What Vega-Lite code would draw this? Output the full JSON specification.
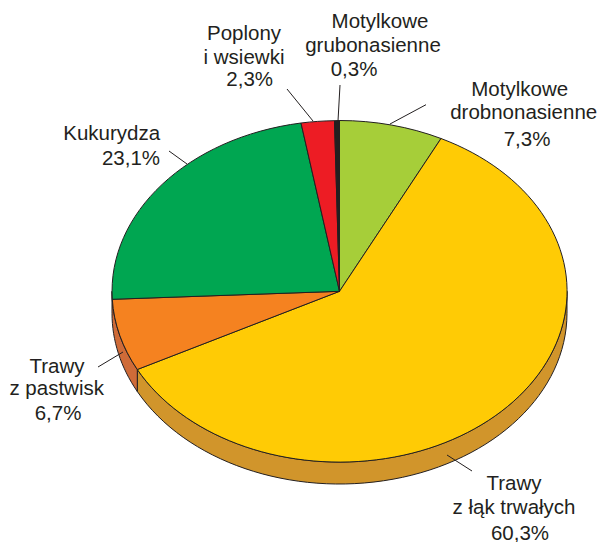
{
  "$schema": "https://vega.github.io/schema/vega-lite/v6.json",
  "width": 601,
  "height": 542,
  "autosize": "none",
  "padding": 0,
  "background": "white",
  "view": {"stroke": null},
  "layer": [
    {
      "data": {"values": [
        {"piece": "Trawy z łąk trwałych (bok)", "share": 60.3},
        {"piece": "Trawy z pastwisk (bok)", "share": 6.7},
        {"piece": "Motylkowe drobnonasienne", "share": 7.3},
        {"piece": "Trawy z łąk trwałych", "share": 60.3},
        {"piece": "Trawy z pastwisk", "share": 6.7},
        {"piece": "Kukurydza", "share": 23.1},
        {"piece": "Poplony i wsiewki", "share": 2.3},
        {"piece": "Motylkowe grubonasienne", "share": 0.3}
      ]},
      "mark": {"type": "point", "filled": true, "opacity": 1, "size": 4, "stroke": "#231F20", "strokeWidth": 1, "strokeOpacity": 1, "fillOpacity": 1, "clip": false},
      "encoding": {
        "shape": {
          "field": "piece", "type": "nominal", "legend": null, "sort": null,
          "scale": {
            "domain": ["Trawy z łąk trwałych (bok)", "Trawy z pastwisk (bok)", "Motylkowe drobnonasienne", "Trawy z łąk trwałych", "Trawy z pastwisk", "Kukurydza", "Poplony i wsiewki", "Motylkowe grubonasienne"],
            "range": [
              "M-163.2,98.5 A227.5,170.75 0 0 0 266.5,20.3 L266.5,42.3 A227.5,170.75 0 0 1 -163.2,120.5 Z",
              "M-188.5,20.3 A227.5,170.75 0 0 0 -163.2,98.5 L-163.2,120.5 A227.5,170.75 0 0 1 -188.5,42.3 Z",
              "M39,20.3 L39,-150.5 A227.5,170.75 0 0 1 140.5,-132.5 Z",
              "M39,20.3 L140.5,-132.5 A227.5,170.75 0 1 1 -163.2,98.5 Z",
              "M39,20.3 L-163.2,98.5 A227.5,170.75 0 0 1 -188.2,28.3 Z",
              "M39,20.3 L-188.2,28.3 A227.5,170.75 0 0 1 0.5,-148 Z",
              "M39,20.3 L0.5,-148 A227.5,170.75 0 0 1 34,-150.3 Z",
              "M39,20.3 L34,-150.3 A227.5,170.75 0 0 1 39,-150.5 Z"
            ]
          }
        },
        "color": {
          "field": "piece", "type": "nominal", "legend": null, "sort": null,
          "scale": {
            "domain": ["Trawy z łąk trwałych (bok)", "Trawy z pastwisk (bok)", "Motylkowe drobnonasienne", "Trawy z łąk trwałych", "Trawy z pastwisk", "Kukurydza", "Poplony i wsiewki", "Motylkowe grubonasienne"],
            "range": ["#D1952B", "#CF6B38", "#A6CE39", "#FFCB05", "#F58220", "#00A651", "#ED1C24", "#231F20"]
          }
        }
      }
    },
    {
      "data": {"values": [
        {"slice": "Poplony i wsiewki", "x1": 287, "y1": 89, "x2": 313, "y2": 121},
        {"slice": "Motylkowe grubonasienne", "x1": 340, "y1": 85, "x2": 338, "y2": 121},
        {"slice": "Motylkowe drobnonasienne", "x1": 426, "y1": 104.7, "x2": 390, "y2": 124},
        {"slice": "Kukurydza", "x1": 169, "y1": 151, "x2": 187, "y2": 164},
        {"slice": "Trawy z pastwisk", "x1": 98, "y1": 367, "x2": 123, "y2": 352},
        {"slice": "Trawy z łąk trwałych", "x1": 447, "y1": 455, "x2": 472, "y2": 471}
      ]},
      "mark": {"type": "rule", "color": "#231F20", "strokeWidth": 1},
      "encoding": {
        "x": {"field": "x1", "type": "quantitative", "axis": null, "scale": {"domain": [0, 601], "nice": false, "zero": false}},
        "y": {"field": "y1", "type": "quantitative", "axis": null, "scale": {"domain": [542, 0], "nice": false, "zero": false}},
        "x2": {"field": "x2"},
        "y2": {"field": "y2"}
      }
    },
    {
      "data": {"values": [
        {"label": "Poplony", "lx": 244, "ly": 39.5},
        {"label": "i wsiewki", "lx": 244, "ly": 64},
        {"label": "2,3%", "lx": 249.7, "ly": 85.7},
        {"label": "Motylkowe", "lx": 380, "ly": 28.3},
        {"label": "grubonasienne", "lx": 373, "ly": 51.7},
        {"label": "0,3%", "lx": 354, "ly": 76},
        {"label": "Motylkowe", "lx": 519.7, "ly": 96},
        {"label": "drobnonasienne", "lx": 523.7, "ly": 119.3},
        {"label": "7,3%", "lx": 527, "ly": 146},
        {"label": "Kukurydza", "lx": 111.7, "ly": 140},
        {"label": "23,1%", "lx": 131, "ly": 165},
        {"label": "Trawy", "lx": 57, "ly": 373.3},
        {"label": "z pastwisk", "lx": 56.7, "ly": 395},
        {"label": "6,7%", "lx": 58, "ly": 420},
        {"label": "Trawy", "lx": 514, "ly": 490.3},
        {"label": "z łąk trwałych", "lx": 514, "ly": 513.7},
        {"label": "60,3%", "lx": 520, "ly": 540.3}
      ]},
      "mark": {"type": "text", "font": "Liberation Sans", "fontSize": 20.5, "align": "center", "baseline": "alphabetic", "color": "#231F20"},
      "encoding": {
        "x": {"field": "lx", "type": "quantitative", "axis": null, "scale": {"domain": [0, 601], "nice": false, "zero": false}},
        "y": {"field": "ly", "type": "quantitative", "axis": null, "scale": {"domain": [542, 0], "nice": false, "zero": false}},
        "text": {"field": "label"}
      }
    }
  ]
}
